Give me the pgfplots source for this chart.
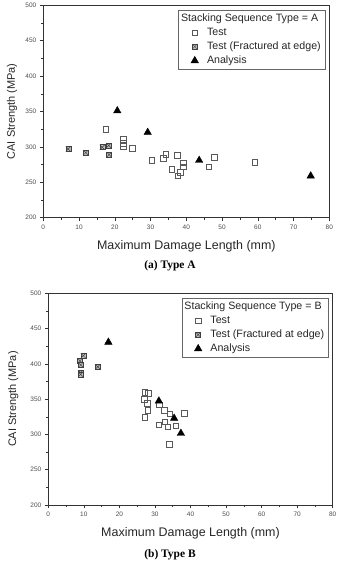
\documentclass[border=0pt]{standalone}
\usepackage{fontspec}
\setmainfont{Liberation Sans}
\newfontfamily\capfont{Liberation Serif}
\usepackage{pgfplots}
\pgfplotsset{compat=1.18}

\pgfdeclareplotmark{boxx}{%
  \pgfpathrectangle{\pgfpoint{-\pgfplotmarksize}{-\pgfplotmarksize}}{\pgfpoint{2\pgfplotmarksize}{2\pgfplotmarksize}}%
  \pgfusepathqfillstroke
  \pgfpathmoveto{\pgfpoint{-\pgfplotmarksize}{-\pgfplotmarksize}}\pgfpathlineto{\pgfpoint{\pgfplotmarksize}{\pgfplotmarksize}}%
  \pgfpathmoveto{\pgfpoint{-\pgfplotmarksize}{\pgfplotmarksize}}\pgfpathlineto{\pgfpoint{\pgfplotmarksize}{-\pgfplotmarksize}}%
  \pgfusepathqstroke}

\pgfplotsset{
  cai/.style={
    scale only axis,
    xmin=0, xmax=80, ymin=200, ymax=500,
    xtick={0,10,...,80}, ytick={200,250,...,500},
    minor x tick num=1, minor y tick num=1,
    xtick pos=left, ytick pos=left,
    tick align=outside,
    major tick length=3.5bp, minor tick length=2bp,
    every tick/.style={black!80, line width=0.5pt},
    axis line style={black!80, line width=0.6pt},
    ticklabel style={font=\fontsize{6.5}{7}\selectfont, text=black!70},
    /pgf/number format/assume math mode=true,
    xlabel={Maximum Damage Length (mm)},
    ylabel={CAI Strength (MPa)},
    xlabel style={font=\fontsize{12.5}{14}\selectfont, text=black!85, at={(axis description cs:0.5,-0.133)}, anchor=center},
    ylabel style={font=\fontsize{11}{13}\selectfont, text=black!85, anchor=center},
    legend cell align=left,
    legend style={draw=black!60, line width=0.5pt, font=\fontsize{10.7}{12}\selectfont, text=black!85,
      at={(axis description cs:0.985,0.978)}, anchor=north east, inner xsep=2bp, inner ysep=2bp,
      row sep=0.9bp},
    legend image code/.code={\path (-4bp,0bp) (20bp,0bp); \draw[#1] plot coordinates {(10bp,0bp)};},
    test/.style={only marks, mark=square, mark size=2.8bp, mark options={draw=black!65, line width=0.6pt}},
    frac/.style={only marks, mark=boxx, mark size=2.5bp, mark options={draw=black!75, fill=black!25, line width=0.5pt}},
    ana/.style={only marks, mark=triangle*, mark size=4.3bp, mark options={fill=black, draw=black}},
  }
}

\begin{document}
\begin{tikzpicture}[x=1bp,y=1bp]
\useasboundingbox (0,0) rectangle (339,564);

\begin{axis}[cai, width=286bp, height=212.4bp, at={(43.3bp,346.3bp)}, anchor=south west,
  ylabel style={at={(axis description cs:-0.109,0.5)}}]
\addlegendimage{empty legend}
\addlegendentry{\hspace*{-26bp}Stacking Sequence Type = A}
\addplot[test] coordinates {
(17.5,324.5) (22.3,311) (22.3,305) (22.3,301) (24.9,298) (30.3,281) (33.5,284) (34.3,289.5)
(37.5,288) (35.9,268) (37.6,259) (38.4,264.5) (39.2,277.5) (39.2,272) (46.3,272) (47.8,285) (59.2,278)
};
\addlegendentry{Test}
\addplot[frac] coordinates {
(7.0,297) (11.9,292) (16.5,299.5) (18.3,302) (18.4,289)
};
\addlegendentry{Test (Fractured at edge)}
\addplot[ana] coordinates {
(20.7,351) (29.2,320.5) (43.6,281) (74.8,259)
};
\addlegendentry{Analysis}
\end{axis}

\node[font=\capfont\bfseries\fontsize{11.5}{13}\selectfont] at (170,298.3) {(a) Type A};

\begin{axis}[cai, width=284.4bp, height=211.7bp, at={(48.3bp,59bp)}, anchor=south west,
  ylabel style={at={(axis description cs:-0.123,0.5)}}]
\addlegendimage{empty legend}
\addlegendentry{\hspace*{-26bp}Stacking Sequence Type = B}
\addplot[test] coordinates {
(27.2,359.7) (28.1,358.3) (27.0,349.8) (27.8,344.1) (28.0,334.6) (27.2,324.3) (32.6,334.6)
(34.2,329) (38.2,330) (31.1,313.4) (32.8,318) (33.6,311) (35.9,312) (34.0,286) (31.2,342)
};
\addlegendentry{Test}
\addplot[frac] coordinates {
(9.85,411.6) (8.9,404.5) (9.1,398.4) (9.1,387.5) (9.1,385.2) (13.9,396)
};
\addlegendentry{Test (Fractured at edge)}
\addplot[ana] coordinates {
(16.9,430.7) (31.1,347.4) (35.4,322.9) (37.3,301.6)
};
\addlegendentry{Analysis}
\end{axis}

\node[font=\capfont\bfseries\fontsize{11.5}{13}\selectfont] at (170,9) {(b) Type B};
\end{tikzpicture}
\end{document}
